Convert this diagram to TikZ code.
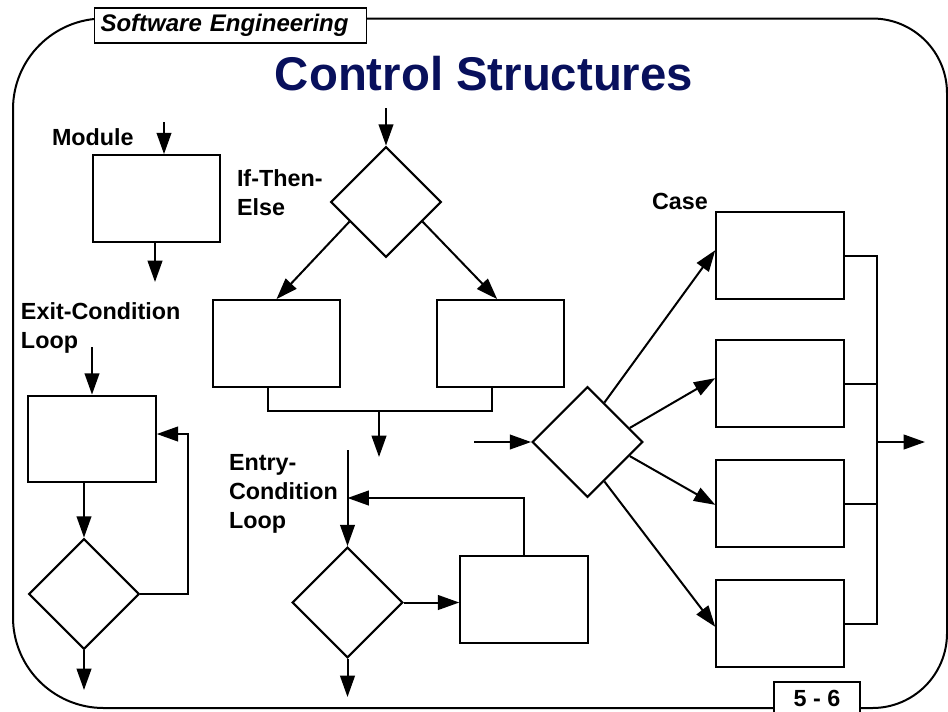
\documentclass[tikz,border=0pt]{standalone}
\usepackage{fontspec}
\setmainfont{Liberation Sans}
\usetikzlibrary{shapes.geometric, arrows.meta, positioning, calc}
\definecolor{titlenavy}{RGB}{8,16,92}

\begin{document}
\begin{tikzpicture}[
    x=0.75pt, y=-0.75pt,
    line width=1.5pt,
    every node/.style={font=\bfseries\fontsize{17.5}{21.75}\selectfont},
    box/.style={rectangle, draw, line width=1.6pt, minimum width=95.5pt,
                minimum height=65pt, inner sep=0pt},
    cond/.style={diamond, draw, line width=1.6pt, aspect=1,
                 minimum size=83pt, inner sep=0pt},
    lbl/.style={inner sep=0pt, align=left, anchor=west},
    frame/.style={line width=1.5pt},
    arr/.style={-{Triangle[length=16pt, width=11pt]}},
]
\useasboundingbox (0,0) rectangle (948,711);

% outer frame
\draw[frame] (500,18.5) [rounded corners=68pt] -- (13,18.5) -- (13,708) -- (500,708)
    [rounded corners=56pt] -- (947,708) -- (947,18.5) -- cycle;

% header, title and page number
\node[draw, fill=white, line width=1.2pt, inner xsep=4.5pt, text width=195pt,
      minimum height=26pt, align=left,
      font=\bfseries\itshape\fontsize{18}{21}\selectfont] (hdr) at (230.5,25.5)
      {Software Engineering};
\node[text=titlenavy, font=\bfseries\fontsize{35.5}{40}\selectfont] (title) at (484,74)
      {Control Structures};
\node[draw, fill=white, line width=1.2pt, minimum width=64.5pt, minimum height=25pt,
      anchor=north] (page) at (817,681) {5 - 6};

% module
\node[lbl] (modlbl) at (51,137) {Module};
\node[box] (modbox) at (156.5,198.5) {};
\coordinate (modin)  at (164,122);
\coordinate (modout) at (155,282);

% if-then-else
\node[lbl] (iflbl) at (236,192.5) {If-Then-\\Else};
\node[cond] (ifd) at (386,202) {};
\node[box] (thenbox) at (276.5,343.5) {};
\node[box] (elsebox) at (500.5,343.5) {};
\coordinate (ifin)   at (386,108);
\coordinate (ifjoin) at (379,411);
\coordinate (ifout)  at (379,457);

% exit-condition loop
\node[lbl] (exlbl) at (20,328) {Exit-Condition\\Loop};
\node[box] (exbox) at (92,439) {};
\node[cond] (exd) at (84,594) {};
\coordinate (exin)   at (92,347);
\coordinate (exout)  at (84,690);
\coordinate (exback) at (188,434);

% entry-condition loop
\node[lbl] (enlbl) at (228,494) {Entry-\\Condition\\Loop};
\node[cond] (end) at (347.5,602.5) {};
\node[box] (enbox) at (524,599.5) {};
\coordinate (enin)   at (347.5,450);
\coordinate (enout)  at (347.5,697);
\coordinate (enback) at (347.5,498);

% case
\node[lbl, anchor=center] (caselbl) at (680,201) {Case};
\node[cond] (cased) at (587.5,442) {};
\node[box] (c1) at (780,255.5) {};
\node[box] (c2) at (780,383.5) {};
\node[box] (c3) at (780,503.5) {};
\node[box] (c4) at (780,623.5) {};
\coordinate (casein)   at (474,442);
\coordinate (casejoin) at (877,442);
\coordinate (caseout)  at (925,442);

% module connectors
\draw[arr] (modin) -- (modbox.north -| modin);
\draw[arr] (modbox.south -| modout) -- (modout);

% if-then-else connectors
\draw[arr] (ifin) -- (ifd.north);
\draw[arr] ($(ifd.west)!0.35!(ifd.south)$) -- (thenbox.north);
\draw[arr] ($(ifd.east)!0.35!(ifd.south)$) -- ([xshift=-2.5pt]elsebox.north);
\draw ([xshift=-6.4pt]thenbox.south) |- (ifjoin)
      -| ([xshift=-6.4pt]elsebox.south);
\draw[arr] (ifjoin) -- (ifout);

% exit-condition loop connectors
\draw[arr] (exin) -- (exbox.north -| exin);
\draw[arr] (exd.north |- exbox.south) -- (exd.north);
\draw[arr] (exd.south) -- (exout);
\draw[arr] (exd.east) -| (exback) -- (exbox.east |- exback);

% entry-condition loop connectors
\draw[arr] (enin) -- (end.north);
\draw[arr] (end.south) -- (enout);
\draw[arr] (end.east) -- (enbox.west |- end.east);
\draw[arr] (enbox.north) |- (enback);

% case connectors
\draw[arr] (casein) -- (cased.west);
\draw[arr] ($(cased.north)!0.3!(cased.east)$) -- ([yshift=4pt]c1.west);
\draw[arr] ($(cased.north)!0.75!(cased.east)$) -- ([yshift=4pt]c2.west);
\draw[arr] ($(cased.south)!0.75!(cased.east)$) -- ([yshift=-1pt]c3.west);
\draw[arr] ($(cased.south)!0.3!(cased.east)$) -- ([yshift=-2.5pt]c4.west);
\draw (c1.east) -| (c4.east -| casejoin) -- (c4.east);
\foreach \b in {c2, c3}
  \draw (\b.east) -- (\b.east -| casejoin);
\draw[arr] (casejoin) -- (caseout);

\end{tikzpicture}
\end{document}
